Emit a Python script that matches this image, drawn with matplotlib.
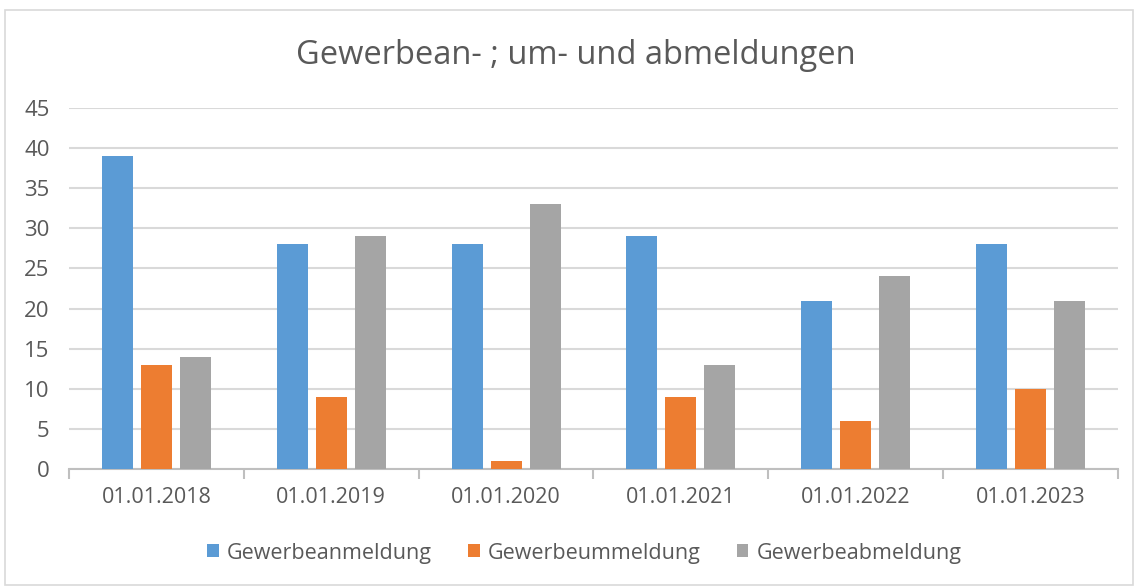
import matplotlib
matplotlib.use("Agg")
import matplotlib.pyplot as plt
import numpy as np
from matplotlib.patches import Rectangle

categories = ["01.01.2018", "01.01.2019", "01.01.2020", "01.01.2021", "01.01.2022", "01.01.2023"]
series_names = ["Gewerbeanmeldung", "Gewerbeummeldung", "Gewerbeabmeldung"]
anmeldung = [39, 28, 28, 29, 21, 28]
ummeldung = [13, 9, 1, 9, 6, 10]
abmeldung = [14, 29, 33, 13, 24, 21]
colors = ["#5B9BD5", "#ED7D31", "#A5A5A5"]

plt.rcParams['font.family'] = ['Open Sans', 'DejaVu Sans']
text_col = "#595959"

fig = plt.figure(figsize=(11.38, 5.87), dpi=100)
fig.patches.append(Rectangle((5/1138, 2/587), 1128/1138, 575/587, transform=fig.transFigure,
                             fill=False, edgecolor="#D9D9D9", linewidth=1.2))

ax = fig.add_axes([69/1138, 1-469/587, (1118-69)/1138, (469-108)/587])
x = np.arange(len(categories))
w = 0.177
step = 0.223
for i, (vals, name) in enumerate(zip([anmeldung, ummeldung, abmeldung], series_names)):
    ax.bar(x + (i-1)*step, vals, width=w, color=colors[i], label=name, zorder=3)

ax.set_xlim(-0.5, len(categories)-0.5)
ax.set_ylim(0, 45)
ax.set_yticks(range(0, 46, 5))
ax.yaxis.grid(True, color="#D9D9D9", linewidth=1.5, zorder=0)
for s in ["top", "right", "left"]:
    ax.spines[s].set_visible(False)
ax.spines["bottom"].set_color("#BFBFBF")
ax.spines["bottom"].set_linewidth(1.5)
ax.tick_params(axis="y", length=0, pad=14, labelsize=16, labelcolor=text_col)
ax.set_xticks(x)
ax.set_xticklabels(categories)
ax.tick_params(axis="x", length=0, pad=13, labelsize=15.5, labelcolor=text_col)
# category boundary tick marks
ax.set_xticks(np.arange(-0.5, len(categories), 1.0), minor=True)
ax.tick_params(axis="x", which="minor", length=7, width=1.5, color="#BFBFBF")

fig.text(0.506, 1-55/587, "Gewerbean- ; um- und abmeldungen", ha="center", va="center",
         fontsize=23.5, color=text_col)

leg = fig.legend(loc="center", bbox_to_anchor=(0.5135, 1-553/587), ncol=3, frameon=False,
                 handlelength=0.55, handleheight=0.55, handletextpad=0.4, columnspacing=1.65,
                 fontsize=15.5, labelcolor=text_col)

fig.savefig("out.png", dpi=100)
